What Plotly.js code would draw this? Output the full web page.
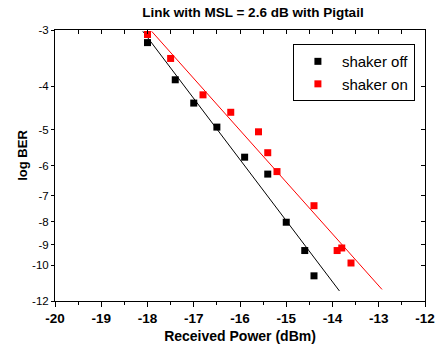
<!DOCTYPE html>
<html>
<head>
<meta charset="utf-8">
<script src="https://cdn.plot.ly/plotly-3.0.1.min.js"></script>
<style>html,body{margin:0;padding:0;background:#fff;}#chart{width:437px;height:353px;}</style>
</head>
<body>
<div id="chart"></div>
<script>
// Data (received power in dBm, log BER)
const offX = [-18, -17.4, -17, -16.5, -15.9, -15.4, -15, -14.6, -14.4];
const offY = [-3.2, -3.87, -4.36, -4.93, -5.75, -6.27, -8.02, -9.27, -10.55];
const onX = [-18, -17.5, -16.8, -16.2, -15.6, -15.4, -15.2, -14.4, -13.9, -13.8, -13.6];
const onY = [-3.07, -3.47, -4.18, -4.57, -5.05, -5.62, -6.19, -7.37, -9.27, -9.15, -9.88];
// Linear fit lines (endpoints)
const offFitX = [-18.1, -13.85];
const offFitY = [-3.02, -11.4];
const onFitX = [-17.91, -12.93];
const onFitY = [-3.02, -11.31];
// Axis ticks
const yTickVals = [-3, -4, -5, -6, -7, -8, -9, -10, -12];
const yTickText = ['-3', '-4', '-5', '-6', '-7', '-8', '-9', '-10', '-12'];
const xTickVals = [-20, -19, -18, -17, -16, -15, -14, -13, -12];

const neg = a => a.map(v => -v);
const font = 'Liberation Sans, Arial, sans-serif';

const traces = [
  {x: offFitX, y: neg(offFitY), mode: 'lines', line: {color: '#000', width: 1}, showlegend: false, hoverinfo: 'skip'},
  {x: onFitX, y: neg(onFitY), mode: 'lines', line: {color: '#ff0000', width: 1}, showlegend: false, hoverinfo: 'skip'},
  {x: offX, y: neg(offY), mode: 'markers', name: 'shaker off', marker: {symbol: 'square', size: 7, color: '#000'}},
  {x: onX, y: neg(onY), mode: 'markers', name: 'shaker on', marker: {symbol: 'square', size: 7, color: '#ff0000'}},
  {x: [null], y: [null], xaxis: 'x2', yaxis: 'y2', showlegend: false, hoverinfo: 'skip'}
];

const yRange = [Math.log10(12), Math.log10(3)];

const layout = {
  width: 437, height: 353,
  margin: {l: 55, r: 12, t: 30, b: 52},
  paper_bgcolor: '#fff', plot_bgcolor: '#fff',
  font: {family: font, color: '#000'},
  title: {text: 'Link with MSL = 2.6 dB with Pigtail', font: {size: 13.5, weight: 'bold', family: font}, x: 0.535, xref: 'paper', xanchor: 'center', y: 0.965, yanchor: 'middle'},
  xaxis: {
    range: [-20, -12], tickvals: xTickVals, ticktext: xTickVals.map(String),
    ticks: 'outside', ticklen: 5, tickwidth: 1, tickcolor: '#000',
    minor: {dtick: 0.5, ticks: 'outside', ticklen: 3, tickcolor: '#000', showgrid: false},
    showline: true, linecolor: '#000', linewidth: 1, showgrid: false, zeroline: false,
    tickfont: {size: 13.5, weight: 'bold', family: font},
    title: {text: 'Received Power (dBm)', font: {size: 14, weight: 'bold', family: font}, standoff: 5}
  },
  yaxis: {
    type: 'log', range: yRange, tickvals: neg(yTickVals), ticktext: yTickText,
    ticks: 'outside', ticklen: 3, tickwidth: 1, tickcolor: '#000',
    showline: true, linecolor: '#000', linewidth: 1, showgrid: false, zeroline: false,
    tickfont: {size: 11.5, family: font}
  },
  xaxis2: {
    overlaying: 'x', side: 'top', range: [-20, -12], dtick: 0.5, tick0: -20,
    ticks: 'inside', ticklen: 4, tickcolor: '#000', showticklabels: false,
    showline: true, linecolor: '#000', linewidth: 1, showgrid: false, zeroline: false
  },
  yaxis2: {
    overlaying: 'y', side: 'right', type: 'log', range: yRange, tickvals: neg(yTickVals),
    ticks: 'inside', ticklen: 4, tickcolor: '#000', showticklabels: false,
    showline: true, linecolor: '#000', linewidth: 1, showgrid: false, zeroline: false
  },
  legend: {
    x: 0.643, y: 0.948, xanchor: 'left', yanchor: 'top',
    bordercolor: '#000', borderwidth: 1, bgcolor: '#fff', itemwidth: 38,
    font: {size: 15, family: font}
  },
  annotations: [
    {text: 'log BER', xref: 'paper', yref: 'paper', x: -0.087, y: 0.539, showarrow: false, textangle: -90,
     font: {size: 13, weight: 'bold', family: font}, xanchor: 'center', yanchor: 'middle'}
  ]
};

Plotly.newPlot('chart', traces, layout, {displayModeBar: false, staticPlot: true});
</script>
</body>
</html>
